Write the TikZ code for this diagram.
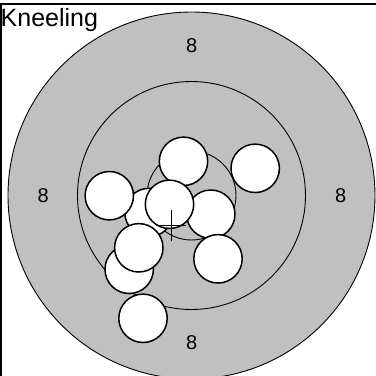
\documentclass[tikz,border=0pt]{standalone}
\usepackage{fontspec}
\setmainfont{Liberation Sans}
\definecolor{ringgrey}{HTML}{C0C0C0}
\begin{document}
\begin{tikzpicture}[x=1pt,y=-1pt,
  ring/.style={draw=black,line width=0.9pt},
  shot/.style={circle,draw=black,fill=white,line width=1.5pt,minimum size=48.4pt,inner sep=0pt},
  score/.style={font=\fontsize{20}{24}\selectfont,inner sep=0pt},
  frameline/.style={draw=black,line width=1.5pt}]
\useasboundingbox (0,0) rectangle (376,376);
\begin{scope}
\clip (0,0) rectangle (376,376);
\coordinate (c) at (191.5,195.5);
\fill[ringgrey,ring] (c) circle[radius=183.5pt];
\draw[ring] (c) circle[radius=114pt];
\draw[ring] (c) circle[radius=44.5pt];
\node[score] (n8top) at (191.7,45.8) {8};
\node[score] (n8left) at (43.3,195.5) {8};
\node[score] (n8right) at (340.7,195.5) {8};
\node[score] (n8bottom) at (191.7,343) {8};
\node[shot] (s1) at (183.5,161.3) {};
\node[shot] (s2) at (255.2,168.3) {};
\node[shot] (s6) at (210.8,214.2) {};
\node[shot] (s9) at (218,258.8) {};
\node[shot] (s4) at (149,212.5) {};
\node[shot] (s5) at (169.5,204.3) {};
\node[shot] (s3) at (109.3,195.7) {};
\node[shot] (s8) at (129.2,269.3) {};
\node[shot] (s7) at (138.8,247.8) {};
\node[shot] (s10) at (143,318.3) {};
\coordinate (x0) at (171.7,225);
\draw[line width=0.9pt] ([yshift=-16pt]x0) -- ([yshift=15pt]x0);
\draw[line width=0.9pt] ([xshift=-14pt]x0) -- ([xshift=14pt]x0);
\end{scope}
\coordinate (fbl) at (1,376);
\coordinate (ftl) at (1,4);
\coordinate (ftr) at (376,4);
\draw[frameline] (fbl) -- (ftl) -- (ftr);
\node[anchor=base west,inner sep=0pt,font=\fontsize{25}{30}\selectfont] (title) at (0.5,26.7) {Kneeling};
\end{tikzpicture}
\end{document}
